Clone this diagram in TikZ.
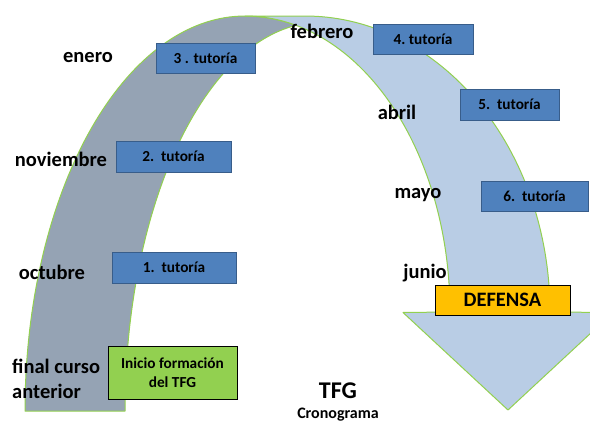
\documentclass[tikz,border=0pt]{standalone}
\usepackage{fontspec}
\setmainfont{Carlito}
\definecolor{darkband}{HTML}{95A3B4}
\definecolor{lightband}{HTML}{B9CDE5}
\definecolor{arrowgreen}{HTML}{92D050}
\definecolor{boxblue}{HTML}{4F81BD}
\definecolor{boxborder}{HTML}{385D8A}
\definecolor{greenbox}{HTML}{92D050}
\definecolor{orangebox}{HTML}{FFC000}
\tikzset{
  band/.style={draw=arrowgreen, line width=1pt, line join=round},
  tut/.style={draw=boxborder, fill=boxblue, line width=1pt, inner sep=0pt,
    font=\fontsize{15.3}{18}\selectfont\bfseries},
  month/.style={inner sep=0pt, anchor=base, font=\fontsize{20.5}{24}\selectfont\bfseries},
}
\begin{document}
\begin{tikzpicture}[x=1pt,y=-1pt]
\useasboundingbox (0,0) rectangle (590,423);
\clip (0,0) rectangle (590,423);
\fill[white] (0,0) rectangle (590,423);

% back (dark) part of the curved arrow
\filldraw[band, fill=darkband]
  plot[domain=180:90, samples=70] ({245+220*cos(\x)},{411-395*sin(\x)})
  -- plot[domain=90:75.5, samples=12] ({245+205*cos(\x)},{312-296*sin(\x)})
  -- plot[domain=97:180, samples=70] ({320+195*cos(\x)},{411-388.6*sin(\x)})
  -- cycle;

% front (light) part with arrow head
\filldraw[band, fill=lightband]
  (245,16) -- (305,16)
  -- plot[domain=90:0, samples=70] ({305+245*cos(\x)},{312-296*sin(\x)})
  -- (613,312.5) -- (508,410) -- (403,312.5) -- (450,312)
  -- plot[domain=0:90, samples=70] ({245+205*cos(\x)},{312-296*sin(\x)})
  -- cycle;

% tutoring boxes
\node[tut, minimum width=99pt, minimum height=30pt] (t3) at (205.5,58) {3 . tutoría};
\node[tut, minimum width=115pt, minimum height=31pt] (t2) at (173.5,156.5) {2.~~tutoría};
\node[tut, minimum width=124pt, minimum height=31pt] (t1) at (174,267.5) {1.~~tutoría};
\node[tut, minimum width=100pt, minimum height=30pt] (t4) at (423,39) {4.\ tutoría};
\node[tut, minimum width=99pt, minimum height=31pt] (t5) at (509.5,104.5) {5.~~tutoría};
\node[tut, minimum width=107pt, minimum height=30pt] (t6) at (534.5,196) {6.~~tutoría};

\node[draw=black, fill=greenbox, line width=1pt, minimum width=129pt, minimum height=53pt,
  inner sep=0pt, align=center, font=\fontsize{15.3}{19}\selectfont\bfseries]
  (inicio) at (172.5,372.5) {Inicio formación\\del TFG};

\node[draw=black, fill=orangebox, line width=1pt, minimum width=135pt, minimum height=30pt,
  inner sep=0pt, font=\fontsize{20.5}{24}\selectfont\bfseries]
  (defensa) at (502.5,300) {DEFENSA};

% month labels
\node[month] (enero) at (88,63) {enero};
\node[month] (nov) at (61,166) {noviembre};
\node[month] (oct) at (52,279) {octubre};
\node[month, anchor=base west] (final) at (12,373) {final curso};
\node[month, anchor=base west] (anterior) at (12,398) {anterior};
\node[month] (feb) at (322,38) {febrero};
\node[month] (abril) at (397,119) {abril};
\node[month] (mayo) at (418,198) {mayo};
\node[month] (junio) at (425,278) {junio};

% title
\node[inner sep=0pt, anchor=base, font=\fontsize{24}{28}\selectfont\bfseries] (tfg) at (338,398) {TFG};
\node[inner sep=0pt, anchor=base, font=\fontsize{16}{20}\selectfont\bfseries] (crono) at (338,418) {Cronograma};
\end{tikzpicture}
\end{document}
